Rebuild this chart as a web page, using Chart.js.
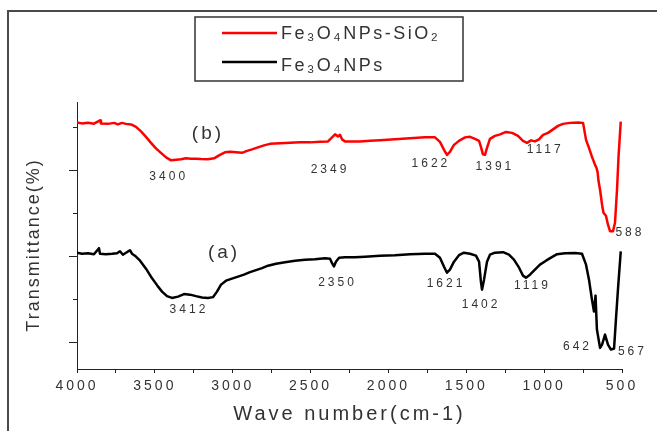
<!DOCTYPE html>
<html><head><meta charset="utf-8">
<script src="https://cdn.jsdelivr.net/npm/chart.js@4.4.1/dist/chart.umd.min.js"></script>
<style>html,body{margin:0;padding:0;background:#fff;}canvas{display:block;}</style>
</head><body>
<canvas id="c" width="657" height="431"></canvas>
<script>
// ---- data ----
const seriesNames = ['Fe₃O₄NPs-SiO₂', 'Fe₃O₄NPs'];
const seriesColors = ['#ff0000', '#000000'];

// (b) Fe3O4NPs-SiO2 : wavenumber (cm-1) and transmittance (arb. units)
const wnB = [4000,3968,3929,3891,3852,3846,3801,3762,3737,3711,
             3685,3653,3621,3589,3557,3525,3493,3461,3428,3396,
             3364,3332,3300,3268,3236,3204,3159,3120,3082,3050,
             3017,2979,2940,2908,2876,2838,2799,2761,2696,2632,
             2568,2504,2439,2388,2362,2343,2324,2311,2298,2279,
             2234,2183,2118,2054,1958,1861,1765,1701,1669,1643,
             1624,1605,1579,1547,1508,1476,1444,1418,1406,1393,
             1380,1367,1348,1316,1283,1245,1206,1168,1136,1110,
             1084,1059,1033,1007,975,943,911,879,834,783,
             750,731,712,693,673,664,657,651,641,628,
             619,603,590,577,558,545,532,522,508];
const tB  = [50.97,50.74,50.90,50.67,51.44,50.74,50.63,50.86,50.51,50.86,
             50.63,50.51,49.93,48.89,47.62,46.23,44.95,43.91,42.87,42.18,
             42.29,42.41,42.64,42.52,42.57,42.48,42.41,42.64,43.45,44.03,
             44.14,44.03,43.91,44.38,44.72,45.19,45.65,46.00,46.11,46.23,
             46.34,46.34,46.46,46.57,47.50,48.19,47.73,48.08,47.04,46.57,
             46.57,46.57,46.69,46.81,47.04,47.27,47.50,47.50,46.46,44.61,
             43.45,44.14,45.76,46.69,47.50,47.62,47.15,46.69,45.30,43.56,
             43.45,45.07,47.15,47.85,48.19,48.77,48.54,47.85,46.69,46.23,
             46.81,46.57,47.04,48.08,48.54,49.35,50.16,50.63,50.86,50.97,
             50.86,46.92,45.07,42.99,41.13,40.44,39.51,37.43,35.35,31.88,
             30.02,29.33,27.25,25.74,25.74,27.71,35.35,43.22,51.16];

// (a) Fe3O4NPs
const wnA = [4000,3968,3929,3891,3859,3852,3814,3775,3743,3724,
             3705,3685,3660,3647,3628,3595,3557,3525,3486,3454,
             3422,3390,3351,3313,3274,3236,3197,3159,3127,3101,
             3075,3043,3005,2966,2928,2889,2850,2812,2773,2722,
             2664,2600,2536,2472,2407,2375,2362,2350,2337,2317,
             2279,2215,2150,2054,1958,1861,1765,1701,1669,1643,
             1624,1605,1579,1547,1515,1476,1438,1418,1406,1399,
             1386,1367,1348,1316,1264,1226,1194,1161,1136,1117,
             1091,1059,1027,988,956,917,866,802,757,731,
             712,693,680,670,661,641,628,609,590,571,
             551,539,526,508];
const tA  = [20.76,20.53,20.65,20.42,21.81,20.53,20.42,20.53,20.65,21.11,
             20.30,20.76,21.34,20.53,20.07,18.91,17.06,15.21,13.24,11.74,
             10.69,10.28,10.58,11.16,11.04,10.69,10.39,10.28,10.46,11.74,
             13.36,14.28,14.75,15.21,15.67,16.25,16.71,17.18,17.75,18.22,
             18.56,18.91,19.14,19.26,19.49,19.38,18.33,17.59,18.68,19.61,
             19.72,19.72,19.84,20.07,20.19,20.42,20.53,20.53,19.61,17.52,
             16.13,16.83,18.68,20.19,20.76,20.53,20.07,18.68,14.05,12.20,
             14.51,18.68,20.30,20.76,20.88,20.30,19.14,17.29,15.44,14.98,
             15.67,16.83,17.99,18.91,19.61,20.42,20.65,20.69,20.53,17.99,
             14.51,9.88,7.11,10.81,2.94,-1.30,-0.53,1.78,-0.53,-1.69,
             -1.46,5.25,12.20,21.06];

// axis ticks
const xTickValues = [4000,3750,3500,3250,3000,2750,2500,2250,2000,1750,1500,1250,1000,750,500];
const xTickLabels = ['4000','3500','3000','2500','2000','1500','1000','500'];
const yTickValues = [0,10,20,30,40,50];
const yMajorTicks = [0,20,40];

// peak annotations
const peakText = ['3400','2349','1622','1391','1117','588','3412','2350','1621','1402','1119','642','567'];
const peakWn   = [3411,2375,1727,1316,993,449,3281,2327,1630,1405,1075,786,433];
const peakT    = [38.3,40.1,41.4,40.7,44.6,25.3,7.6,13.75,13.6,8.7,13.1,-0.93,-2.08];
const sampleText = ['(b)','(a)'];
const sampleWn   = [3159,3056];
const sampleT    = [48.3,20.65];

// ---- drawing ----
const FONT = '"Liberation Sans", Arial, Helvetica, sans-serif';
Chart.defaults.font.family = FONT;
Chart.defaults.color = '#333';

const spacingPlugin = {
  id: 'spacing',
  beforeLayout(chart){ chart.ctx.letterSpacing = '3px'; },
  beforeDraw(chart){
    const ctx = chart.ctx;
    ctx.save();
    ctx.letterSpacing = '0px';
    ctx.strokeStyle = '#4a4a4a';
    ctx.lineWidth = 2;
    ctx.beginPath();
    ctx.moveTo(8, 431); ctx.lineTo(8, 11); ctx.lineTo(657, 11);
    ctx.stroke();
    ctx.restore();
    ctx.letterSpacing = '3px';
  }
};

const annotPlugin = {
  id: 'annot',
  afterDraw(chart){
    const ctx = chart.ctx;
    const xs = chart.scales.x, ys = chart.scales.y;
    ctx.save();
    // y tick marks
    ctx.strokeStyle = '#222'; ctx.lineWidth = 1;
    ctx.beginPath();
    yTickValues.forEach(v => {
      const py = Math.round(ys.getPixelForValue(v)) + 0.5;
      const len = yMajorTicks.includes(v) ? 8 : 4;
      ctx.moveTo(ys.right - len, py); ctx.lineTo(ys.right, py);
    });
    ctx.stroke();
    // y title
    ctx.save();
    ctx.translate(34, 245);
    ctx.rotate(-Math.PI/2);
    ctx.font = '18px ' + FONT;
    ctx.letterSpacing = '2px';
    ctx.fillStyle = '#333';
    ctx.textAlign = 'center'; ctx.textBaseline = 'middle';
    ctx.fillText('Transmittance(%)', 0, 0);
    ctx.restore();
    // peak labels
    ctx.fillStyle = '#333';
    ctx.textAlign = 'center'; ctx.textBaseline = 'middle';
    ctx.font = '12px ' + FONT;
    ctx.letterSpacing = '3px';
    peakText.forEach((t, i) => {
      ctx.fillText(t, xs.getPixelForValue(peakWn[i]), ys.getPixelForValue(peakT[i]));
    });
    ctx.font = '19px ' + FONT;
    ctx.letterSpacing = '3px';
    sampleText.forEach((t, i) => {
      ctx.fillText(t, xs.getPixelForValue(sampleWn[i]), ys.getPixelForValue(sampleT[i]));
    });
    // legend
    ctx.letterSpacing = '0px';
    ctx.strokeStyle = '#333'; ctx.lineWidth = 1.5;
    ctx.strokeRect(195, 17, 268, 64);
    const rowLine = [33, 62], rowBase = [38.5, 71];
    chart.data.datasets.forEach((ds, i) => {
      ctx.strokeStyle = ds.borderColor; ctx.lineWidth = 2.5;
      ctx.beginPath(); ctx.moveTo(222, rowLine[i]); ctx.lineTo(277, rowLine[i]); ctx.stroke();
      ctx.fillStyle = '#333';
      ctx.font = '18px ' + FONT;
      ctx.letterSpacing = '2.5px';
      ctx.textAlign = 'left'; ctx.textBaseline = 'alphabetic';
      ctx.fillText(ds.label, 281, rowBase[i]);
    });
    ctx.restore();
  }
};

const toPts = (xs, ys) => xs.map((x, i) => ({x, y: ys[i]}));

new Chart(document.getElementById('c'), {
  type: 'line',
  data: {
    datasets: [
      { label: seriesNames[0], data: toPts(wnB, tB), borderColor: seriesColors[0], borderWidth: 2.5, pointRadius: 0, borderJoinStyle: 'round', tension: 0 },
      { label: seriesNames[1], data: toPts(wnA, tA), borderColor: seriesColors[1], borderWidth: 2.5, pointRadius: 0, borderJoinStyle: 'round', tension: 0 }
    ]
  },
  options: {
    responsive: false,
    devicePixelRatio: 1,
    animation: false,
    layout: { padding: { top: 102, right: 35, bottom: 0, left: 0 } },
    plugins: { legend: { display: false }, tooltip: { enabled: false } },
    scales: {
      x: {
        type: 'linear', reverse: true, min: 500, max: 4000,
        afterBuildTicks: s => { s.ticks = xTickValues.map(v => ({value: v})); },
        afterFit: s => { s.height = 62; },
        ticks: {
          autoSkip: false, maxRotation: 0, minRotation: 0, padding: 5,
          color: '#333', font: { size: 14 },
          callback: (v) => { const k = xTickLabels.indexOf(String(v)); return k >= 0 ? xTickLabels[k] : ''; }
        },
        grid: { drawOnChartArea: false, drawTicks: true, tickLength: 4, color: '#222', tickColor: '#222' },
        border: { display: true, color: '#222', width: 1 },
        title: { display: true, text: 'Wave number(cm-1)', color: '#333', font: { size: 20 }, padding: { top: 0, bottom: 5 } }
      },
      y: {
        type: 'linear', min: -6.2, max: 55.7,
        afterBuildTicks: s => { s.ticks = yTickValues.map(v => ({value: v})); },
        afterFit: s => { s.width = 77; },
        ticks: { display: false },
        grid: { display: false, drawTicks: false },
        border: { display: true, color: '#222', width: 1 },
        title: { display: false }
      }
    }
  },
  plugins: [spacingPlugin, annotPlugin]
});
</script>
</body></html>
